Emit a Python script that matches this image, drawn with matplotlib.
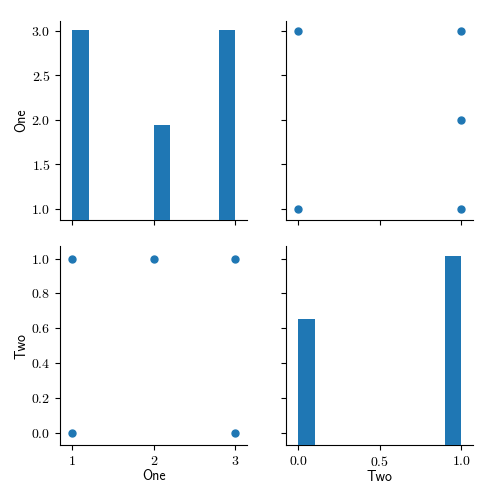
import matplotlib
matplotlib.use("Agg")
import matplotlib.pyplot as plt
import pandas as pd

one = [1, 1, 2, 3, 3]
two = [0, 1, 1, 0, 1]
names = ["One", "Two"]

df = pd.DataFrame({"One": one, "Two": two})

plt.rcParams["font.family"] = "cmr10"
plt.rcParams["axes.formatter.use_mathtext"] = True

lims = {"One": {"x": (0.853, 3.147), "y": (0.877, 3.11)},
        "Two": {"x": (-0.074, 1.074), "y": (-0.07, 1.07)}}
color = "#1f77b4"

fig, axes = plt.subplots(2, 2, figsize=(5, 5), sharex="col")
fig.subplots_adjust(left=0.1206, right=0.9466, bottom=0.1094, top=0.9586,
                    wspace=0.2086, hspace=0.134)

for i, yv in enumerate(names):
    for j, xv in enumerate(names):
        ax = axes[i, j]
        if i == j:
            tw = ax.twinx()
            tw.hist(df[xv], bins=10, color=color)
            tw.set_axis_off()
        else:
            ax.scatter(df[xv], df[yv], s=25, color=color)
        ax.set_xlim(lims[xv]["x"])
        ax.set_ylim(lims[yv]["y"])
        ax.spines["top"].set_visible(False)
        ax.spines["right"].set_visible(False)
        if j > 0:
            ax.tick_params(labelleft=False)
        else:
            ax.set_ylabel(yv, family="cmss10", fontsize=10, labelpad=2)
        if i == 1:
            ax.set_xlabel(xv, family="cmss10", fontsize=10, labelpad=1)

axes[0, 0].set_yticks([1.0, 1.5, 2.0, 2.5, 3.0])
axes[0, 1].set_yticks([1.0, 1.5, 2.0, 2.5, 3.0])
axes[1, 0].set_xticks([1, 2, 3])
axes[1, 1].set_xticks([0.0, 0.5, 1.0])

fig.savefig("out.png", dpi=100)
